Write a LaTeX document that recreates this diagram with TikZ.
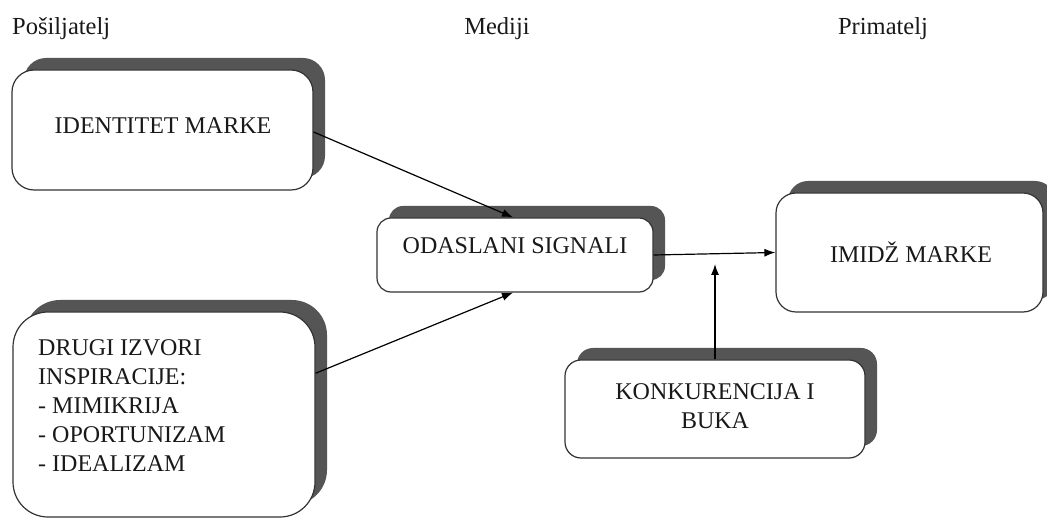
\documentclass[tikz,border=0pt]{standalone}
\usepackage{fontspec}
\setmainfont{Liberation Serif}
\usetikzlibrary{arrows.meta,shadows,calc}
\definecolor{sgray}{HTML}{555555}
\definecolor{lgray}{HTML}{333333}
\tikzset{
  box/.style={draw=lgray, line width=1.2pt, fill=white, inner sep=0pt,
    general shadow={shadow xshift=12pt, shadow yshift=12pt, fill=sgray, draw=none}},
  txt/.style={font=\fontsize{24}{29}\selectfont, text=black!90, inner sep=0pt},
  ttl/.style={font=\fontsize{24.5}{30}\selectfont, text=black!90, inner sep=0pt, anchor=base},
  arr/.style={draw=black, line width=1.2pt, -{Latex[length=11pt,width=8pt]}}
}
\begin{document}
\begin{tikzpicture}[x=1pt,y=-1pt]
\useasboundingbox (0,0) rectangle (1047,518);
\clip (0,0) rectangle (1047,518);
\fill[white] (0,0) rectangle (1047,518);
% titles
\node[ttl, anchor=base west] (t1) at (12,35) {Pošiljatelj};
\node[ttl] (t2) at (497,35) {Mediji};
\node[ttl] (t3) at (883,35) {Primatelj};
% boxes
\node[box, rounded corners=22pt, minimum width=301pt, minimum height=120pt] (ident) at (162.5,130) {};
\node[box, rounded corners=14pt, minimum width=276pt, minimum height=74pt] (odas) at (515,255) {};
\node[box, rounded corners=20pt, minimum width=267pt, minimum height=119pt] (imidz) at (909.5,252.5) {};
\node[box, rounded corners=35pt, minimum width=302pt, minimum height=205pt] (drugi) at (164,414.5) {};
\node[box, rounded corners=16pt, minimum width=300pt, minimum height=98pt] (konk) at (715,409) {};
% texts
\node[txt] (identt) at (163,126) {IDENTITET MARKE};
\node[txt] (odast) at (515,246) {ODASLANI SIGNALI};
\node[txt] (imidzt) at (911,252) {IMIDŽ MARKE};
\node[txt, align=center] (konkt) at (715,406) {KONKURENCIJA I\\BUKA};
\node[txt, align=left, anchor=west] (drugit) at (38,405.5) {DRUGI IZVORI\\INSPIRACIJE:\\- MIMIKRIJA\\- OPORTUNIZAM\\- IDEALIZAM};
% connectors
\coordinate (noise) at (715,264);
\draw[arr] ([yshift=-2pt]ident.east) -- ([xshift=-2pt]odas.north);
\draw[arr] ($(drugi.north east)!0.3!(drugi.south east)$) -- ([xshift=-2pt]odas.south);
\draw[arr] (odas.east) -- (imidz.west);
\draw[arr] (konk.north) -- (noise);
\end{tikzpicture}
\end{document}
